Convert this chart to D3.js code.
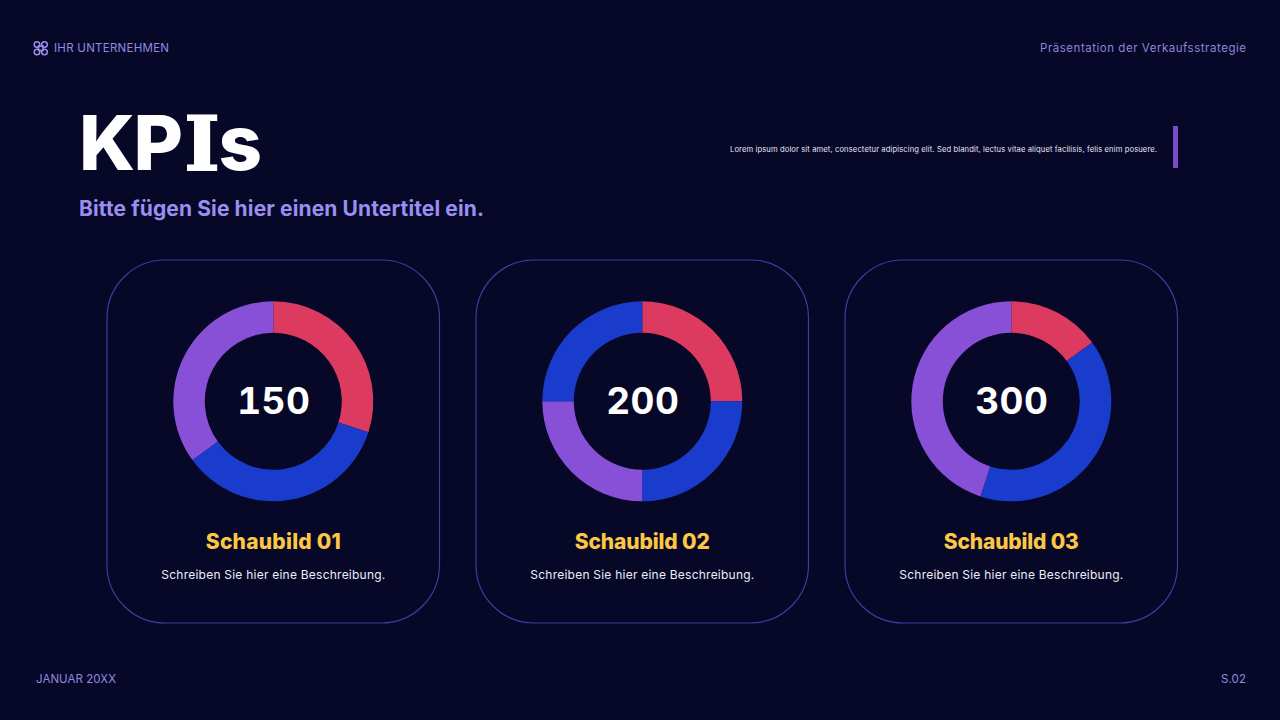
<!DOCTYPE html>
<html><head><meta charset="utf-8">
<script src="https://cdn.jsdelivr.net/npm/d3@7"></script>
<style>html,body{margin:0;padding:0;background:#070727;overflow:hidden}svg{display:block}</style>
</head><body><svg id="c" width="1280" height="720"></svg>
<script>
const chartTitles = ["Schaubild 01","Schaubild 02","Schaubild 03"];
const centerValues = ["150","200","300"];
const description = "Schreiben Sie hier eine Beschreibung.";
const chart1Values = [30,35,35];
const chart2Values = [25,25,25,25];
const chart3Values = [15,40,45];
const chart1Colors = ["#dd3a60","#1a3ccc","#8850d6"];
const chart2Colors = ["#dd3a60","#1a3ccc","#8850d6","#1a3ccc"];
const chart3Colors = ["#dd3a60","#1a3ccc","#8850d6"];
const cardLefts = [107,476,845];
const sans = "'Inter','Noto Sans',sans-serif";
const svg = d3.select("#c");
const txt=(x,y,s,size,fill,weight,anchor,len)=>{
  const t=svg.append("text").attr("x",x).attr("y",y).attr("font-size",size).attr("fill",fill).attr("font-weight",weight||400).attr("text-anchor",anchor||"start").attr("font-family",sans).text(s);
  if(len) t.attr("textLength",len);
  return t;
};
// header icon
const ig=svg.append("g").attr("fill","none").attr("stroke","#9b8ff0").attr("stroke-width",1.5);
[[37,44.5],[44.5,44.5],[37,52],[44.5,52]].forEach(p=>ig.append("circle").attr("cx",p[0]).attr("cy",p[1]).attr("r",2.8));
ig.append("rect").attr("x",38.5).attr("y",46).attr("width",4.5).attr("height",4.5);
txt(54,52,"IHR UNTERNEHMEN",11.5,"#9489e0",400,"start",115);
txt(1246,52,"Präsentation der Verkaufsstrategie",11.5,"#8f85d8",400,"end",206);
// title: sans K, P and s with a slab I
const title=svg.append("text").attr("y",170).attr("font-size",76).attr("fill","#fff").attr("font-weight",800).attr("font-family",sans);
title.append("tspan").attr("x",79).attr("letter-spacing",-1.5).text("KP");
title.append("tspan").attr("x",184.5).attr("font-family","'DejaVu Serif',serif").attr("font-weight",700).attr("font-size",75).attr("stroke","#fff").attr("stroke-width",2).text("I");
title.append("tspan").attr("x",218.5).text("s");
txt(79,216,"Bitte fügen Sie hier einen Untertitel ein.",21,"#9a8ff0",700,"start",405);
txt(1157,152,"Lorem ipsum dolor sit amet, consectetur adipiscing elit. Sed blandit, lectus vitae aliquet facilisis, felis enim posuere.",7.6,"#e8e6f8",400,"end",427);
svg.append("rect").attr("x",1173).attr("y",126).attr("width",5).attr("height",42).attr("fill","#7a4cc8");
const pie=d3.pie().sort(null).value(d=>d);
const arc=d3.arc().innerRadius(68.5).outerRadius(100);
[[chart1Values,chart1Colors],[chart2Values,chart2Colors],[chart3Values,chart3Colors]].forEach(([vals,cols],i)=>{
  const x=cardLefts[i];
  svg.append("rect").attr("x",x).attr("y",260).attr("width",332.5).attr("height",363).attr("rx",58).attr("fill","#070727").attr("stroke","#433a9e").attr("stroke-width",1.2);
  const cx=x+166.3;
  const g=svg.append("g").attr("transform",`translate(${cx},401.3)`);
  g.selectAll("path").data(pie(vals)).join("path").attr("d",arc).attr("fill",(d,j)=>cols[j]);
  txt(cx+.5,414,centerValues[i],37,"#ffffff",700,"middle").style("font-variant-numeric","tabular-nums").attr("letter-spacing",.5);
  txt(cx,549,chartTitles[i],21,"#fcc744",800,"middle",135);
  txt(cx,579,description,12,"#f0eef8",400,"middle",224);
});
txt(36,683,"JANUAR 20XX",11.5,"#9489e0",400,"start",80);
txt(1246,683,"S.02",11.5,"#9489e0",400,"end",25);
</script></body></html>
